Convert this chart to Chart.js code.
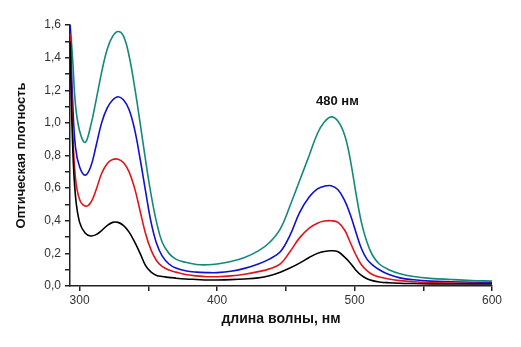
<!DOCTYPE html>
<html>
<head>
<meta charset="utf-8">
<script src="https://cdn.jsdelivr.net/npm/chart.js@4/dist/chart.umd.min.js"></script>
<style>
  html, body { margin: 0; padding: 0; background: #fff; }
  #wrap { width: 521px; height: 347px; }
</style>
</head>
<body>
<div id="wrap"><canvas id="canvasChart"></canvas></div>
<script>
// wavelength, nm
var wavelengths = [293, 295, 297, 300, 304, 308, 312, 316, 320, 324, 328, 332, 336, 340, 344, 348, 352, 356, 360, 365, 370, 377, 385, 393, 400, 410, 420, 430, 438, 446, 453, 460, 467, 473, 478, 483, 488, 493, 497, 501, 505, 509, 513, 518, 525, 533, 543, 555, 570, 585, 600];
var xTicks = [300, 350, 400, 450, 500, 550, 600];

// optical density
var tealSeries = [1.62, 1.38, 1.11, 0.95, 0.88, 0.98, 1.14, 1.31, 1.45, 1.53, 1.56, 1.53, 1.41, 1.22, 1.00, 0.77, 0.56, 0.39, 0.27, 0.20, 0.165, 0.145, 0.132, 0.13, 0.135, 0.15, 0.175, 0.215, 0.265, 0.35, 0.49, 0.645, 0.80, 0.935, 1.005, 1.037, 1.01, 0.92, 0.77, 0.57, 0.39, 0.27, 0.19, 0.135, 0.10, 0.075, 0.058, 0.047, 0.04, 0.034, 0.03];
var blueSeries = [1.6, 1.12, 0.85, 0.73, 0.68, 0.73, 0.86, 1.0, 1.09, 1.14, 1.16, 1.14, 1.08, 0.96, 0.78, 0.58, 0.39, 0.26, 0.185, 0.135, 0.11, 0.093, 0.085, 0.082, 0.082, 0.09, 0.108, 0.135, 0.165, 0.21, 0.31, 0.45, 0.545, 0.595, 0.612, 0.615, 0.59, 0.52, 0.435, 0.33, 0.23, 0.165, 0.13, 0.10, 0.07, 0.05, 0.038, 0.03, 0.026, 0.023, 0.02];
var redSeries = [1.55, 0.95, 0.66, 0.53, 0.49, 0.51, 0.59, 0.69, 0.75, 0.775, 0.777, 0.755, 0.70, 0.60, 0.46, 0.32, 0.22, 0.155, 0.12, 0.098, 0.085, 0.07, 0.062, 0.057, 0.057, 0.062, 0.072, 0.088, 0.105, 0.135, 0.21, 0.295, 0.355, 0.385, 0.398, 0.40, 0.39, 0.34, 0.265, 0.19, 0.13, 0.095, 0.07, 0.055, 0.043, 0.033, 0.026, 0.021, 0.018, 0.016, 0.015];
var blackSeries = [1.5, 0.85, 0.55, 0.39, 0.325, 0.307, 0.315, 0.34, 0.37, 0.39, 0.39, 0.37, 0.33, 0.27, 0.20, 0.125, 0.085, 0.065, 0.058, 0.053, 0.048, 0.043, 0.04, 0.037, 0.037, 0.039, 0.043, 0.05, 0.063, 0.085, 0.11, 0.14, 0.175, 0.20, 0.212, 0.216, 0.21, 0.175, 0.14, 0.097, 0.065, 0.045, 0.033, 0.025, 0.02, 0.017, 0.015, 0.013, 0.012, 0.012, 0.012];

var peakLabel = '480 нм';
var peakLabelPos = [487.5, 1.134];

function toPoints(values) {
  return values.map(function (v, i) { return { x: wavelengths[i], y: v }; });
}

function makeSet(values, color) {
  return {
    data: toPoints(values),
    borderColor: color,
    borderWidth: 1.6,
    pointRadius: 0,
    fill: false,
    tension: 0.4
  };
}

var peakText = {
  id: 'peakText',
  afterDatasetsDraw: function (chart) {
    var ctx = chart.ctx;
    var x = chart.scales.x.getPixelForValue(peakLabelPos[0]);
    var y = chart.scales.y.getPixelForValue(peakLabelPos[1]);
    ctx.save();
    ctx.font = 'bold 13px "Liberation Sans", Arial, sans-serif';
    ctx.fillStyle = '#111';
    ctx.textAlign = 'center';
    ctx.textBaseline = 'middle';
    ctx.fillText(peakLabel, x, y);
    ctx.restore();
  }
};

var axisColor = '#222';

var linearChart = new Chart(document.getElementById('canvasChart'), {
  type: 'line',
  data: {
    datasets: [
      makeSet(blackSeries, '#000000'),
      makeSet(redSeries, '#e0151b'),
      makeSet(blueSeries, '#1010d0'),
      makeSet(tealSeries, '#13897a')
    ]
  },
  plugins: [peakText],
  options: {
    responsive: true,
    maintainAspectRatio: false,
    animation: false,
    layout: { padding: { left: 0, top: 25, right: 29, bottom: 0 } },
    plugins: {
      legend: { display: false },
      tooltip: { enabled: false }
    },
    scales: {
      x: {
        type: 'linear',
        min: 293,
        max: 600,
        afterFit: function (scale) { scale.height = 61; },
        afterBuildTicks: function (scale) {
          scale.ticks = xTicks.map(function (v) { return { value: v }; });
        },
        border: { display: true, color: axisColor, width: 1.5 },
        grid: { display: true, drawOnChartArea: false, tickLength: 5, color: axisColor, lineWidth: 1.5 },
        ticks: {
          autoSkip: false,
          maxRotation: 0,
          padding: 2,
          color: '#333',
          font: { family: '"Liberation Sans", Arial, sans-serif', size: 12 },
          callback: function (value) { return value % 100 === 0 ? String(value) : ''; }
        },
        title: {
          display: true,
          text: 'длина волны, нм',
          color: '#111',
          font: { family: '"Liberation Sans", Arial, sans-serif', size: 14, weight: 'bold' },
          padding: { top: 0, bottom: 19 }
        }
      },
      y: {
        min: 0,
        max: 1.6,
        afterFit: function (scale) { scale.width = 70; },
        border: { display: true, color: axisColor, width: 1.5 },
        grid: { display: true, drawOnChartArea: false, tickLength: 5, color: axisColor, lineWidth: 1.5 },
        ticks: {
          stepSize: 0.1,
          autoSkip: false,
          padding: 4,
          color: '#333',
          font: { family: '"Liberation Sans", Arial, sans-serif', size: 12 },
          callback: function (value) {
            var k = Math.round(value * 10);
            return k % 2 === 0 ? (k / 10).toFixed(1).replace('.', ',') : '';
          }
        },
        title: {
          display: true,
          text: 'Оптическая плотность',
          color: '#111',
          font: { family: '"Liberation Sans", Arial, sans-serif', size: 13, weight: 'bold' },
          padding: { top: 14, bottom: 0 }
        }
      }
    }
  }
});
</script>
</body>
</html>
